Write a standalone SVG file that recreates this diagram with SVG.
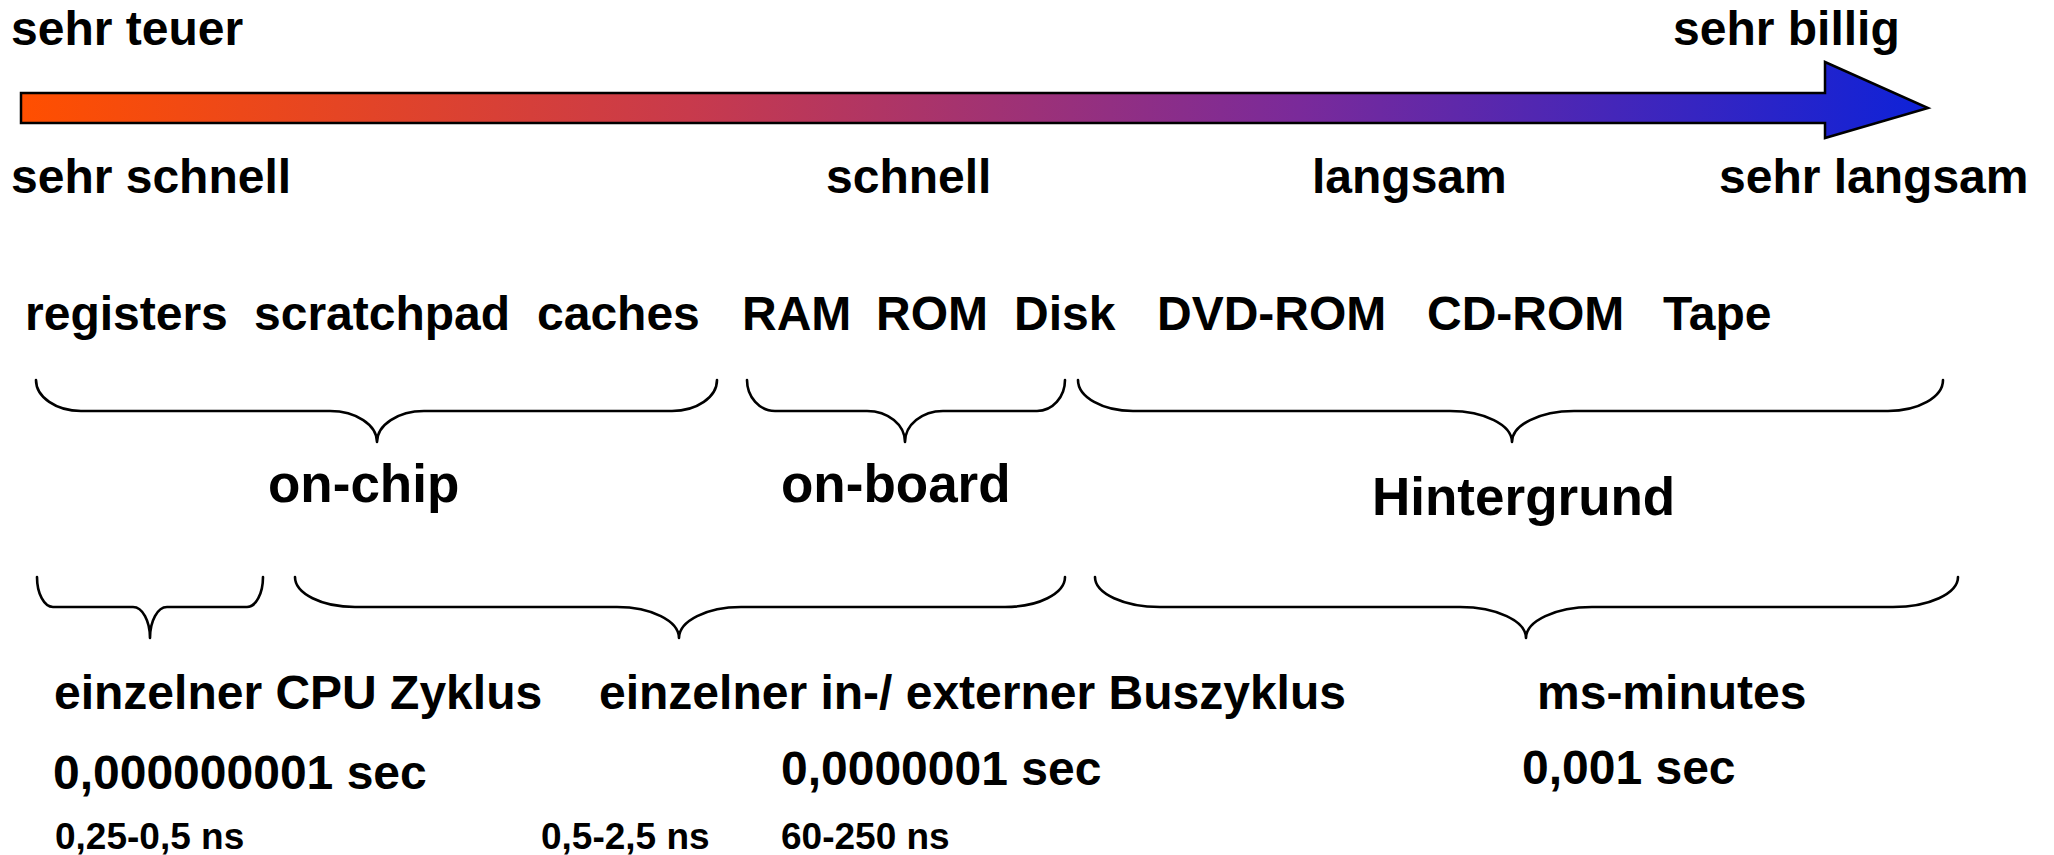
<svg xmlns="http://www.w3.org/2000/svg" width="2054" height="855" viewBox="0 0 2054 855">
  <defs>
    <linearGradient id="costGradient" gradientUnits="userSpaceOnUse" x1="21" y1="0" x2="1928" y2="0">
      <stop offset="0" stop-color="#FF4F00"/>
      <stop offset="0.35" stop-color="#C83A4C"/>
      <stop offset="0.67" stop-color="#7A2A9A"/>
      <stop offset="1" stop-color="#0E22D8"/>
    </linearGradient>
    <style>
      text { font-family: "Liberation Sans", Arial, sans-serif; font-weight: bold; fill: #000; }
      .t48 { font-size: 48px; }
      .t53 { font-size: 53px; }
      .t37 { font-size: 37px; }
      .brace { fill: none; stroke: #000; stroke-width: 2.6; stroke-linecap: round; stroke-linejoin: round; }
    </style>
  </defs>
  <rect width="2054" height="855" fill="#fff"/>

  <!-- price / speed scale arrow -->
  <g id="scale-arrow">
    <path d="M21,93 L1825,93 L1825,62 L1928,108 L1825,138 L1825,123 L21,123 Z" fill="url(#costGradient)" stroke="#000" stroke-width="2.5" stroke-linejoin="miter"/>
  </g>

  <g id="scale-labels">
    <text class="t48" x="11" y="45">sehr teuer</text>
    <text class="t48" x="1673" y="45">sehr billig</text>
    <text class="t48" x="11" y="193">sehr schnell</text>
    <text class="t48" x="826" y="193">schnell</text>
    <text class="t48" x="1312" y="193">langsam</text>
    <text class="t48" x="1719" y="193">sehr langsam</text>
  </g>

  <g id="memory-types">
    <text class="t48" x="25" y="330">registers</text>
    <text class="t48" x="254" y="330">scratchpad</text>
    <text class="t48" x="537" y="330">caches</text>
    <text class="t48" x="742" y="330">RAM</text>
    <text class="t48" x="876" y="330">ROM</text>
    <text class="t48" x="1014" y="330">Disk</text>
    <text class="t48" x="1157" y="330">DVD-ROM</text>
    <text class="t48" x="1427" y="330">CD-ROM</text>
    <text class="t48" x="1663" y="330">Tape</text>
  </g>

  <!-- grouping braces -->
  <g id="braces">
    <path class="brace" d="M36,380 A45,31 0 0 0 81,411 L330,411 A47,31 0 0 1 377,442 A47,31 0 0 1 424,411 L672,411 A45,31 0 0 0 717,380"/>
    <path class="brace" d="M747,380 A28,31 0 0 0 775,411 L867,411 A38,31 0 0 1 905,442 A38,31 0 0 1 943,411 L1037,411 A28,31 0 0 0 1065,380"/>
    <path class="brace" d="M1078,380 A55,31 0 0 0 1133,411 L1450,411 A62,31 0 0 1 1512,442 A62,31 0 0 1 1574,411 L1888,411 A55,31 0 0 0 1943,380"/>
    <path class="brace" d="M37,577 A16,30 0 0 0 53,607 L133,607 A17,31 0 0 1 150,638 A17,31 0 0 1 167,607 L247,607 A16,30 0 0 0 263,577"/>
    <path class="brace" d="M295,577 A60,30 0 0 0 355,607 L617,607 A62,31 0 0 1 679,638 A62,31 0 0 1 741,607 L1005,607 A60,30 0 0 0 1065,577"/>
    <path class="brace" d="M1095,577 A65,30 0 0 0 1160,607 L1460,607 A66,31 0 0 1 1526,638 A66,31 0 0 1 1592,607 L1893,607 A65,30 0 0 0 1958,577"/>
  </g>

  <g id="location-labels">
    <text class="t53" x="268" y="502">on-chip</text>
    <text class="t53" x="781" y="502">on-board</text>
    <text class="t53" x="1372" y="515">Hintergrund</text>
  </g>

  <g id="cycle-labels">
    <text class="t48" x="54" y="709">einzelner CPU Zyklus</text>
    <text class="t48" x="599" y="709">einzelner in-/ externer Buszyklus</text>
    <text class="t48" x="1537" y="709">ms-minutes</text>
  </g>

  <g id="time-labels">
    <text class="t48" x="53" y="789">0,000000001 sec</text>
    <text class="t48" x="781" y="785">0,0000001 sec</text>
    <text class="t48" x="1522" y="784">0,001 sec</text>
    <text class="t37" x="55" y="849">0,25-0,5 ns</text>
    <text class="t37" x="541" y="849">0,5-2,5 ns</text>
    <text class="t37" x="781" y="849">60-250 ns</text>
  </g>
</svg>
